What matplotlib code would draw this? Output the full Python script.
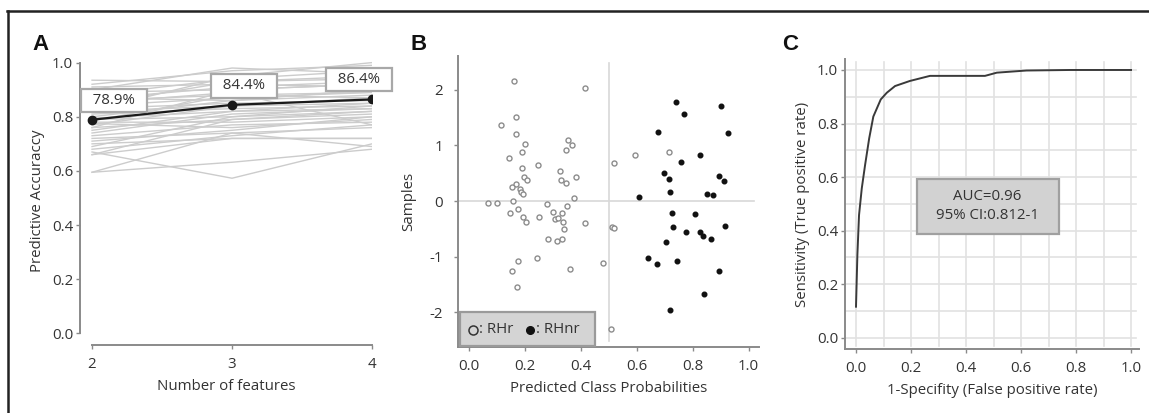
import matplotlib
matplotlib.use("Agg")
import matplotlib.pyplot as plt
from matplotlib.patches import Rectangle
from matplotlib.lines import Line2D
import numpy as np

plt.rcParams['font.family'] = ['Open Sans', 'DejaVu Sans']
FS = 10.8
plt.rcParams['font.size'] = FS

# ---------------- data ----------------
# Panel A: accuracy of individual feature combinations and their mean
n_features = [2, 3, 4]
acc_at_2 = [0.935, 0.92, 0.91, 0.90, 0.89, 0.88, 0.87, 0.865, 0.86, 0.85, 0.845, 0.84, 0.83,
            0.825, 0.82, 0.81, 0.80, 0.795, 0.79, 0.785, 0.78, 0.775, 0.77, 0.76, 0.75, 0.74,
            0.73, 0.72, 0.71, 0.70, 0.69, 0.68, 0.67, 0.66, 0.66, 0.595, 0.595, 0.76]
acc_at_3 = [0.93, 0.97, 0.92, 0.98, 0.90, 0.94, 0.86, 0.91, 0.88, 0.89, 0.93, 0.87, 0.85,
            0.95, 0.84, 0.83, 0.86, 0.82, 0.80, 0.88, 0.78, 0.76, 0.84, 0.79, 0.82, 0.81,
            0.77, 0.74, 0.75, 0.72, 0.80, 0.73, 0.573, 0.79, 0.72, 0.632, 0.74, 0.90]
acc_at_4 = [0.95, 0.99, 0.91, 0.96, 0.92, 0.97, 0.88, 0.93, 0.87, 0.77, 0.94, 0.89, 0.86,
            1.00, 0.85, 0.84, 0.90, 0.83, 0.82, 0.89, 0.80, 0.79, 0.87, 0.81, 0.85, 0.83,
            0.78, 0.76, 0.80, 0.72, 0.84, 0.77, 0.70, 0.82, 0.72, 0.68, 0.69, 0.92]
mean_acc = [0.789, 0.844, 0.864]
mean_labels = ["78.9%", "84.4%", "86.4%"]

# Panel B: predicted class probability vs. sample score
rhr_prob = [0.162, 0.417, 0.168, 0.117, 0.170, 0.200, 0.356, 0.370, 0.192, 0.346, 0.145, 0.518,
            0.595, 0.715, 0.249, 0.192, 0.325, 0.384, 0.196, 0.208, 0.331, 0.346, 0.170, 0.156,
            0.183, 0.187, 0.193, 0.377, 0.068, 0.101, 0.158, 0.280, 0.350, 0.175, 0.149, 0.301,
            0.333, 0.194, 0.252, 0.204, 0.309, 0.320, 0.336, 0.417, 0.339, 0.512, 0.519, 0.283,
            0.314, 0.332, 0.175, 0.243, 0.481, 0.155, 0.363, 0.174, 0.507]
rhr_samp = [2.16, 2.04, 1.52, 1.37, 1.21, 1.03, 1.10, 1.00, 0.89, 0.92, 0.78, 0.69,
            0.82, 0.88, 0.64, 0.59, 0.55, 0.44, 0.43, 0.38, 0.38, 0.33, 0.31, 0.25,
            0.21, 0.16, 0.13, 0.05, -0.04, -0.03, 0.01, -0.06, -0.08, -0.14, -0.22, -0.20,
            -0.22, -0.29, -0.28, -0.37, -0.33, -0.31, -0.38, -0.40, -0.50, -0.46, -0.49, -0.69,
            -0.71, -0.69, -1.07, -1.02, -1.12, -1.26, -1.22, -1.55, -2.31]
rhnr_prob = [0.740, 0.900, 0.770, 0.678, 0.927, 0.827, 0.759, 0.699, 0.715, 0.895, 0.912, 0.718,
             0.851, 0.874, 0.608, 0.726, 0.808, 0.730, 0.775, 0.827, 0.838, 0.864, 0.915, 0.705,
             0.642, 0.671, 0.744, 0.895, 0.840, 0.720]
rhnr_samp = [1.79, 1.71, 1.56, 1.25, 1.22, 0.83, 0.70, 0.50, 0.40, 0.46, 0.36, 0.16,
             0.13, 0.11, 0.07, -0.22, -0.23, -0.47, -0.56, -0.56, -0.62, -0.68, -0.44, -0.73,
             -1.03, -1.13, -1.07, -1.26, -1.68, -1.96]

# Panel C: ROC curve
fpr = [0.0, 0.005, 0.011, 0.021, 0.033, 0.048, 0.063, 0.090, 0.112, 0.142, 0.196, 0.269,
       0.469, 0.512, 0.62, 0.778, 1.0]
tpr = [0.116, 0.309, 0.458, 0.558, 0.645, 0.745, 0.826, 0.890, 0.915, 0.940, 0.959, 0.978,
       0.978, 0.990, 0.998, 1.0, 1.0]
auc_text = "AUC=0.96\n95% CI:0.812-1"

# ---------------- layout ----------------
W, H = 1149, 413
fig = plt.figure(figsize=(W / 100, H / 100), dpi=100)
fig.patch.set_facecolor('white')


def axes_px(l, t, r, b):
    return fig.add_axes([l / W, 1 - b / H, (r - l) / W, (b - t) / H])


SPINE = '#8a8a8a'
TXT = '#333333'


def style(ax):
    for s in ('top', 'right'):
        ax.spines[s].set_visible(False)
    for s in ('left', 'bottom'):
        ax.spines[s].set_color(SPINE)
        ax.spines[s].set_linewidth(1.4)
    ax.tick_params(colors=SPINE, labelcolor=TXT, labelsize=FS, length=3, width=1, pad=2)


# outer frame
fig.add_artist(Line2D([7 / W, 1], [1 - 10.5 / H, 1 - 10.5 / H], color='#222222', lw=1.8,
                      transform=fig.transFigure))
fig.add_artist(Line2D([7.5 / W, 7.5 / W], [0, 1 - 10.5 / H], color='#222222', lw=1.8,
                      transform=fig.transFigure))

# ---------------- Panel A ----------------
axA = axes_px(80, 57.2, 372, 345)
style(axA)
axA.set_xlim(1.914, 4.0)
axA.set_ylim(-0.043, 1.02)
axA.spines['left'].set_bounds(0, 1)
axA.spines['bottom'].set_bounds(2, 4)
for a, b, c in zip(acc_at_2, acc_at_3, acc_at_4):
    axA.plot(n_features, [a, b, c], color='#cccccc', lw=1.0, zorder=1)
axA.plot(n_features, mean_acc, color='#1a1a1a', lw=1.6, marker='o', ms=6, zorder=3)
offsets = [(15.5, 13.7), (8.6, 13.7), (-9.4, 14.4)]
for x, y, lab, off in zip(n_features, mean_acc, mean_labels, offsets):
    axA.annotate(f"  {lab}  ", (x, y), xytext=off, textcoords='offset points', ha='center',
                 va='center', fontsize=FS, color=TXT, zorder=5, annotation_clip=False,
                 bbox=dict(boxstyle='square,pad=0.28', fc='white', ec='#a8a8a8', lw=1.6))
axA.set_yticks([0, 0.2, 0.4, 0.6, 0.8, 1.0])
axA.set_yticklabels(['0.0', '0.2', '0.4', '0.6', '0.8', '1.0'])
axA.set_xticks(n_features)
axA.tick_params(axis='x', pad=6)
axA.set_ylabel('Predictive Accuraccy', fontsize=FS, color=TXT, labelpad=5)
axA.set_xlabel('Number of features', fontsize=FS, color=TXT, labelpad=5)

# ---------------- Panel B ----------------
axB = axes_px(458, 56, 759, 346.7)
style(axB)
axB.set_xlim(-0.038, 1.037)
axB.set_ylim(-2.62, 2.61)
axB.axvline(0.5, ymin=0.02, ymax=0.975, color='#d8d8d8', lw=1.2, zorder=1)
axB.axhline(0.0, xmin=0, xmax=0.985, color='#d8d8d8', lw=1.2, zorder=1)
axB.scatter(rhr_prob, rhr_samp, s=13, facecolors='white', edgecolors='#8c8c8c',
            linewidths=1.0, zorder=3)
axB.scatter(rhnr_prob, rhnr_samp, s=11, color='#111111', zorder=3)
axB.set_xticks([0.0, 0.2, 0.4, 0.6, 0.8, 1.0])
axB.set_xticklabels(['0.0', '0.2', '0.4', '0.6', '0.8', '1.0'])
axB.set_yticks([-2, -1, 0, 1, 2])
axB.set_yticklabels(['-2', '-1', '0', '1', '2'])
axB.tick_params(axis='x', pad=6)
axB.tick_params(axis='y', pad=8)
axB.set_ylabel('Samples', fontsize=FS, color=TXT, labelpad=9)
axB.set_xlabel('Predicted Class Probabilities', fontsize=FS, color=TXT, labelpad=5)

# class key box
axB.add_patch(Rectangle((0.0066, 0.004), 0.448, 0.115, transform=axB.transAxes,
                        fc='#d4d4d4', ec='#9a9a9a', lw=1.6, zorder=4, clip_on=False))
axB.plot([0.050], [0.058], transform=axB.transAxes, marker='o', ms=6.5, mfc='none',
         mec='#333333', mew=1.1, zorder=5, clip_on=False)
axB.plot([0.240], [0.058], transform=axB.transAxes, marker='o', ms=5.5, color='#111111',
         zorder=5, clip_on=False)
axB.text(0.070, 0.058, ': RHr', transform=axB.transAxes, ha='left', va='center',
         fontsize=FS, color=TXT, zorder=5)
axB.text(0.258, 0.058, ': RHnr', transform=axB.transAxes, ha='left', va='center',
         fontsize=FS, color=TXT, zorder=5)

# ---------------- Panel C ----------------
axC = axes_px(845, 59, 1139, 349)
style(axC)
axC.set_xlim(-0.04, 1.029)
axC.set_ylim(-0.042, 1.041)
axC.set_xticks([0.0, 0.2, 0.4, 0.6, 0.8, 1.0])
axC.set_xticklabels(['0.0', '0.2', '0.4', '0.6', '0.8', '1.0'])
axC.set_yticks([0.0, 0.2, 0.4, 0.6, 0.8, 1.0])
axC.set_yticklabels(['0.0', '0.2', '0.4', '0.6', '0.8', '1.0'])
grid = np.round(np.arange(0, 1.01, 0.1), 1)
for g in grid:
    axC.axvline(g, ymin=0.01, ymax=0.99, color='#e2e2e2', lw=1.2, zorder=0)
    axC.axhline(g, xmin=0.0, xmax=0.99, color='#e2e2e2', lw=1.2, zorder=0)
axC.plot(fpr, tpr, color='#3a3a3a', lw=1.4, zorder=3)
axC.add_patch(Rectangle((0.221, 0.386), 0.518, 0.207, fc='#d2d2d2', ec='#a0a0a0', lw=1.6,
                        zorder=4))
axC.text(0.477, 0.492, auc_text, ha='center', va='center', fontsize=FS, color=TXT,
         linespacing=1.45, zorder=5)
axC.tick_params(axis='x', pad=6)
axC.set_ylabel('Sensitivity (True positive rate)', fontsize=FS, color=TXT, labelpad=5)
axC.set_xlabel('1-Specifity (False positive rate)', fontsize=FS, color=TXT, labelpad=5)

# panel letters
for letter, xp in (('A', 32), ('B', 410), ('C', 782)):
    fig.text(xp / W, 1 - 49.5 / H, letter, fontsize=16, fontweight='bold',
             family=['Liberation Sans', 'DejaVu Sans'], color='#111111', va='baseline')

fig.savefig('out.png', dpi=100, facecolor='white')
